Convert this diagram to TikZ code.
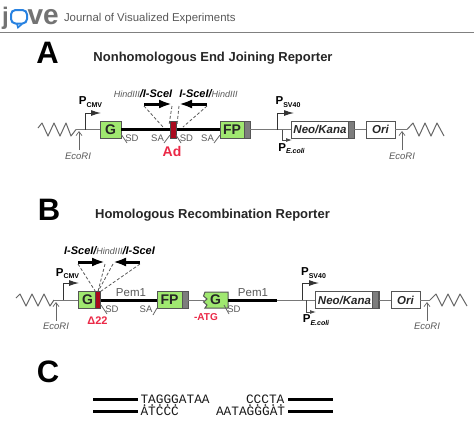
\documentclass[tikz,border=0pt]{standalone}
\usepackage{fontspec}
\setmainfont{Liberation Sans}
\newfontfamily\seqfont{Liberation Mono}
\usetikzlibrary{arrows.meta}
\definecolor{boxgreen}{RGB}{160,232,112}
\definecolor{geneedge}{RGB}{85,85,85}
\definecolor{thin}{RGB}{120,120,120}
\definecolor{capgray}{RGB}{125,125,125}
\definecolor{adred}{RGB}{170,10,30}
\definecolor{labelred}{RGB}{235,40,70}
\definecolor{logoblue}{RGB}{40,130,225}
\newcommand{\fsz}[1]{\fontsize{#1}{#1}\selectfont}
\newcommand{\psub}[2]{{\bfseries\fsz{11.5}P\raisebox{-2.5pt}{\fsz{#2}#1}}}
\newcommand{\hind}{{\color{black!65}\fsz{9}\itshape HindIII}}
\newcommand{\scei}{{\bfseries\itshape\fsz{11}I-SceI}}
\tikzset{
  x=1pt,y=-1pt,
  lab/.style={inner sep=0pt,outer sep=0pt,align=center},
  panel/.style={lab,font=\bfseries\fsz{31}},
  title/.style={lab,font=\bfseries\fsz{13},text=black!85},
  gene/.style={draw=geneedge,line width=1pt,fill=boxgreen,inner sep=0pt,outer sep=0pt,minimum height=17pt,font=\bfseries\fsz{14},text=black!85},
  plain/.style={draw=geneedge,line width=1pt,fill=white,inner sep=0pt,outer sep=0pt,minimum height=17pt,font=\bfseries\itshape\fsz{11.5},text=black!85},
  capbar/.style={draw=geneedge,line width=0.4pt,fill=capgray,inner sep=0pt,outer sep=0pt,minimum height=17pt,minimum width=6pt},
  redbar/.style={draw=black!70,line width=0.3pt,fill=adred,inner sep=0pt,outer sep=0pt,minimum height=17pt,minimum width=5pt},
  thinline/.style={draw=thin,line width=1pt},
  thickline/.style={draw=black,line width=3pt},
  wavy/.style={draw=black!60,line width=1pt,line join=round},
  site/.style={lab,font=\itshape\fsz{9.5},text=black!65},
  small/.style={lab,font=\fsz{9.5},text=black!65},
  tick/.style={draw=black!60,line width=0.8pt},
  ecoarrow/.style={draw=black!60,line width=0.7pt,-{Straight Barb[length=4pt,width=6pt]}},
  promoter/.style={draw=black!80,line width=1pt,-{Latex[length=10pt,width=6pt]}},
  promotersmall/.style={draw=black!70,line width=0.8pt,-{Latex[length=6pt,width=4pt]}},
  cutarrow/.style={draw=black,line width=3pt,-{Latex[length=13pt,width=9pt]}},
  cutdash/.style={draw=black!65,line width=0.8pt,dashed,dash pattern=on 3pt off 2pt},
  redlab/.style={lab,font=\bfseries\fsz{11},text=labelred},
  seq/.style={lab,anchor=west,font=\seqfont\fsz{12.8},text=black!90},
  strand/.style={draw=black,line width=3pt},
  dotpair/.style={fill=black!80,circle,inner sep=0pt,minimum size=2pt},
}
\begin{document}
\begin{tikzpicture}
\fill[white] (0,0) rectangle (474,424);
\useasboundingbox (0,0) rectangle (474,424);

% header
\node[lab,anchor=base west,font=\bfseries\fsz{24},text=black!55] (logoj) at (2,24) {j};
\draw[logoblue,line width=2pt,rounded corners=4.5pt] (11,10) rectangle (27,23.5);
\draw[logoblue,line width=1.6pt] (17,24) -- (18,27.5) -- (22,24);
\node[lab,anchor=base west,font=\bfseries\fsz{28},text=black!55] (logove) at (27.5,24) {ve};
\node[lab,anchor=west,font=\fsz{11.4},text=black!65] (journal) at (64,18.5) {Journal of Visualized Experiments};
\draw[black!50,line width=1pt] (0,32) -- (474,32);

% ---------- A
\node[panel] (pa) at (47.5,52.5) {A};
\node[title] (ta) at (213,58.5) {Nonhomologous End Joining Reporter};

\coordinate (aw1) at (76,129.5);
\draw[wavy] (38,128) -- (42,123) -- (48,136) -- (54,123) -- (60,136) -- (66,123) -- (71,136) -- (aw1);
\node[gene,minimum width=21pt] (ag) at (110.5,129.5) {G};
\node[gene,minimum width=24pt] (afp) at (232,129.5) {FP};
\node[capbar] (afpc) at (247,129.5) {};
\node[plain,minimum width=63pt] (aneo) at (322.5,129.5) {\hspace{-5pt}Neo/Kana};
\node[capbar] (aneoc) at (351,129.5) {};
\node[plain,minimum width=29pt] (aori) at (380.5,129.5) {Ori};
\coordinate (aw2) at (407,129.5);
\draw[wavy] (aw2) -- (413,123) -- (419,136) -- (425,123) -- (431,136) -- (437,123) -- (444,136);
\draw[thinline] (aw1) -- (ag.west);
\draw[thickline] (ag.east) -- (afp.west);
\draw[thinline] (afpc.east) -- (aneo.west);
\draw[thinline] (aneoc.east) -- (aori.west);
\draw[thinline] (aori.east) -- (aw2);
\node[redbar,minimum width=6pt] (aad) at (173,129.5) {};

\coordinate (apc) at (85,129.5);
\draw[promoter] (apc) -- (85,113) -- (101,113);
\node[lab] (apct) at (90.5,102) {\psub{CMV}{7}};
\coordinate (aps) at (277,129.5);
\draw[promoter] (aps) -- (277,113) -- (294,113);
\node[lab] (apst) at (288,102) {\psub{SV40}{7}};
\coordinate (ape) at (282,129.5);
\draw[promotersmall] (ape) -- (282,140) -- (292,140);
\node[lab] (apet) at (291.5,148.5) {{\bfseries\fsz{11.5}P\raisebox{-2.5pt}{\itshape\fsz{7}E.coli}}};

\node[site] (ae1) at (78,156) {EcoRI};
\coordinate (ae1a) at (79,131);
\draw[ecoarrow] (ae1) ++(1,-6) -- (ae1a);
\node[site] (ae2) at (402,156) {EcoRI};
\coordinate (ae2a) at (402,131);
\draw[ecoarrow] (ae2) ++(0,-6) -- (ae2a);

\node[small] (asd1) at (132,138) {SD};
\draw[tick] (121,134) -- (127,143);
\node[small] (asa1) at (157.5,138) {SA};
\draw[tick] (164,143) -- (170,135);
\node[small] (asd2) at (186.5,138) {SD};
\draw[tick] (176,135) -- (181,143);
\node[small] (asa2) at (207.5,138) {SA};
\draw[tick] (214,143) -- (220,135);
\node[redlab,font=\bfseries\fsz{14}] (aadl) at (172,151) {Ad};

\node[lab] (ac1) at (143,94) {\hind{\bfseries\itshape\fsz{11}/}\scei};
\node[lab] (ac2) at (208.5,94) {\scei{\bfseries\itshape\fsz{11}/}\hind};
\coordinate (aa1s) at (144,104); \coordinate (aa1e) at (172,104);
\coordinate (aa2s) at (207,104); \coordinate (aa2e) at (179,104);
\draw[cutarrow] (aa1s) -- (aa1e);
\draw[cutarrow] (aa2s) -- (aa2e);
\coordinate (aaT) at (173,127);
\draw[cutdash] (aa1s) ++(0,2) -- ([xshift=-10pt]aaT);
\draw[cutdash] (aa1e) ++(0,2) -- ([xshift=-4pt,yshift=2pt]aaT);
\draw[cutdash] (aa2e) ++(0,2) -- ([xshift=4pt,yshift=2pt]aaT);
\draw[cutdash] (aa2s) ++(0,2) -- ([xshift=10pt]aaT);

% ---------- B
\node[panel] (pb) at (49,209.5) {B};
\node[title] (tb) at (212.5,215) {Homologous Recombination Reporter};

\coordinate (bw1) at (54,300);
\draw[wavy] (16,298) -- (20,294) -- (26,306) -- (32,294) -- (38,306) -- (44,294) -- (50,306) -- (bw1);
\node[gene,minimum width=22pt] (bg) at (89,300) {\hspace{-3pt}G};
\node[redbar] (bd) at (98,300) {};
\node[gene,minimum width=25pt] (bfp) at (169.5,300) {FP};
\node[capbar] (bfpc) at (185,300) {};
\path[gene,draw=geneedge,fill=boxgreen] (205,292) -- (228,292) -- (228,308) -- (205,308) -- (207,305) -- (203.5,302) -- (207,299) -- (203.5,296) -- cycle;
\node[lab,font=\bfseries\fsz{14},text=black!85] (bg2) at (215.5,300) {G};
\coordinate (bthickend) at (277,300);
\node[plain,minimum width=64pt] (bneo) at (347,300) {\hspace{-5pt}Neo/Kana};
\node[capbar] (bneoc) at (375.5,300) {};
\node[plain,minimum width=29pt] (bori) at (405.5,300) {Ori};
\coordinate (bw2) at (430,300);
\draw[wavy] (bw2) -- (436,294) -- (442,306) -- (448,294) -- (454,306) -- (460,294) -- (467,306);
\draw[thinline] (bw1) -- (bg.west);
\draw[thickline] (bd.east) -- (bfp.west);
\draw[thinline] (bfpc.east) -- (203.5,300);
\draw[thickline] (228,300) -- (bthickend);
\draw[thinline] (bthickend) -- (bneo.west);
\draw[thinline] (bneoc.east) -- (bori.west);
\draw[thinline] (bori.east) -- (bw2);

\coordinate (bpc) at (63,300);
\draw[promoter] (bpc) -- (63,283) -- (79,283);
\node[lab] (bpct) at (67.5,273.5) {\psub{CMV}{7}};
\coordinate (bps) at (302,300);
\draw[promoter] (bps) -- (302,283) -- (319,283);
\node[lab] (bpst) at (313.5,273) {\psub{SV40}{7}};
\coordinate (bpe) at (306,300);
\draw[promotersmall] (bpe) -- (306,312) -- (316,312);
\node[lab] (bpet) at (316,320) {{\bfseries\fsz{11.5}P\raisebox{-2.5pt}{\itshape\fsz{7}E.coli}}};

\node[site] (be1) at (56,326.5) {EcoRI};
\coordinate (be1a) at (56,302);
\draw[ecoarrow] (be1) ++(0,-6) -- (be1a);
\node[site] (be2) at (427,326.5) {EcoRI};
\coordinate (be2a) at (427,302);
\draw[ecoarrow] (be2) ++(0,-6) -- (be2a);

\node[small] (bsd1) at (112,309.5) {SD};
\draw[tick] (101,305) -- (107,314);
\node[small] (bsa) at (146,309.5) {SA};
\draw[tick] (153,315) -- (157,308);
\node[small] (bsd2) at (234,309.5) {SD};
\draw[tick] (224,305) -- (229,314);
\node[small,font=\fsz{11.5}] (bp1) at (131,293) {Pem1};
\node[small,font=\fsz{11.5}] (bp2) at (253,293) {Pem1};
\node[redlab] (bdl) at (97.5,321) {Δ22};
\node[redlab,font=\bfseries\fsz{10}] (batg) at (206,317) {-ATG};

\node[lab] (bc) at (109.5,251) {\scei{\bfseries\itshape\fsz{11}/}\hind{\bfseries\itshape\fsz{11}/}\scei};
\coordinate (ba1s) at (78,262); \coordinate (ba1e) at (105,262);
\coordinate (ba2s) at (140,262); \coordinate (ba2e) at (113,262);
\draw[cutarrow] (ba1s) -- (ba1e);
\draw[cutarrow] (ba2s) -- (ba2e);
\draw[cutdash] (ba1s) ++(0,2) -- ([xshift=-2.5pt]bd.north);
\draw[cutdash] (ba1e) ++(0,2) -- (bd.north);
\draw[cutdash] (ba2e) ++(0,2) -- (bd.north);
\draw[cutdash] (ba2s) ++(0,2) -- ([xshift=2.5pt]bd.north);

% ---------- C
\node[panel] (pc) at (48,372) {C};
\coordinate (cl1a) at (93,399); \coordinate (cl1b) at (138,399);
\coordinate (cl2a) at (93,411); \coordinate (cl2b) at (138,411);
\coordinate (cr1a) at (288,399); \coordinate (cr1b) at (333,399);
\coordinate (cr2a) at (288,411); \coordinate (cr2b) at (333,411);
\draw[strand] (cl1a) -- (cl1b);
\draw[strand] (cl2a) -- (cl2b);
\draw[strand] (cr1a) -- (cr1b);
\draw[strand] (cr2a) -- (cr2b);
\node[seq] (s1) at (140.5,399) {TAGGGATAA};
\node[seq] (s2) at (246,399) {CCCTA};
\node[seq] (s3) at (140.5,411) {ATCCC};
\node[seq] (s4) at (216,411) {AATAGGGAT};
\foreach \i in {0,...,4} {
  \node[dotpair] at (144.5+7.7*\i,405) {};
  \node[dotpair] at (250+7.7*\i,405) {};
}
\end{tikzpicture}
\end{document}
